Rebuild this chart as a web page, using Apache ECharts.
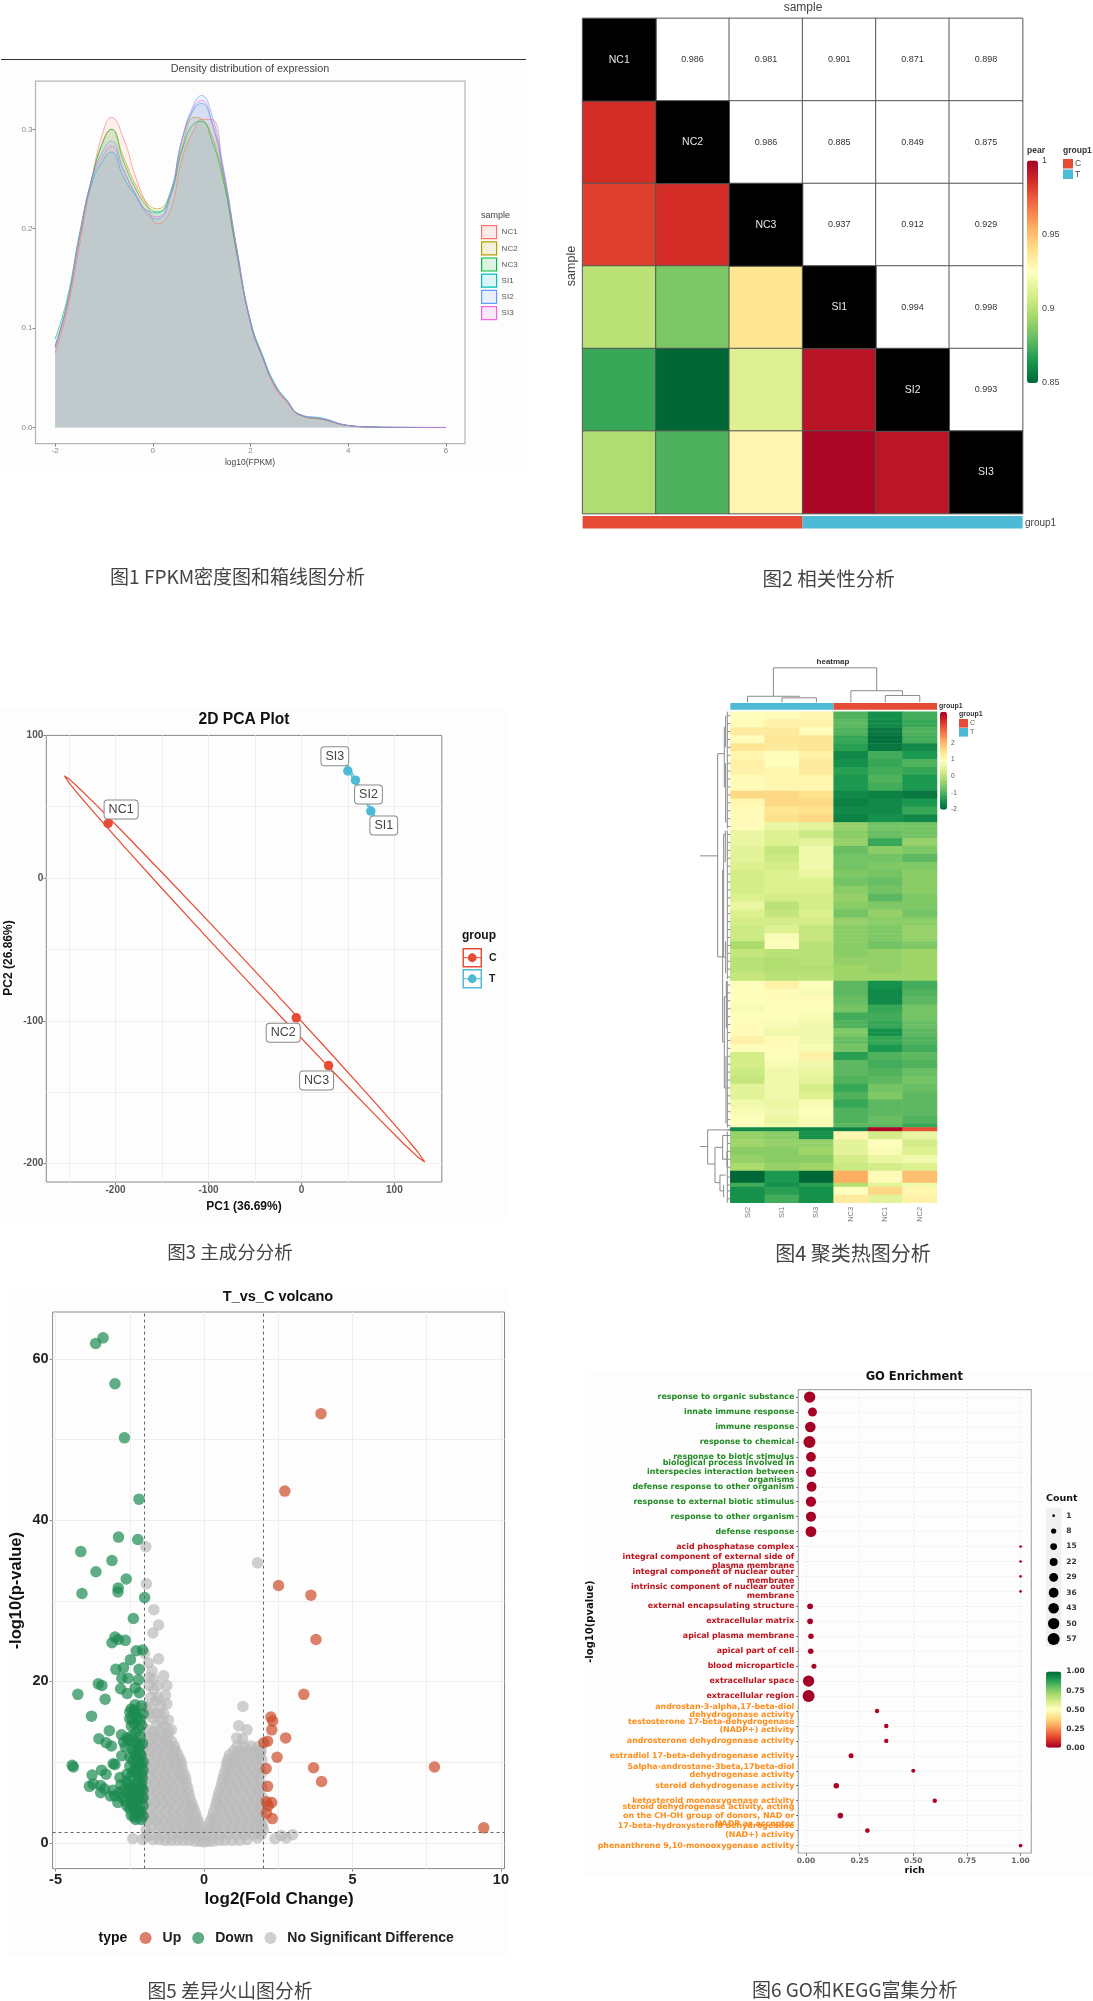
<!DOCTYPE html>
<html><head><meta charset="utf-8"><title>Figures</title>
<style>html,body{margin:0;padding:0;background:#fff}#c{width:1093px;height:2001px}</style>
<script src="https://cdn.jsdelivr.net/npm/echarts@6/dist/echarts.min.js"></script></head>
<body><div id="c"></div>
<script>
/* ---------- DATA ---------- */
const samples = ['NC1','NC2','NC3','SI1','SI2','SI3'];
const palette = ['#006837','#1a9850','#66bd63','#a6d96a','#d9ef8b','#ffffbf','#fee08b','#fdae61','#f46d43','#d73027','#a50026'];

// Fig 1: density
const densityX = [-2,-1.75,-1.5,-1.25,-1,-.85,-.6,-.35,-.1,.1,.35,.6,.85,1,1.2,1.45,1.7,2,2.25,2.5,2.75,3,3.5,4,4.5,5,6];
const densNC1 = [.075,.118,.183,.25,.30,.312,.291,.252,.222,.205,.217,.27,.3,.31,.31,.255,.185,.105,.07,.04,.025,.0125,.008,.002,.0005,.0001,0];
const densNC2 = [.08,.125,.19,.25,.29,.30,.272,.244,.225,.22,.235,.282,.312,.31,.295,.25,.18,.105,.07,.042,.026,.013,.008,.002,.0005,.0001,0];
const densNC3 = [.089,.13,.195,.25,.29,.30,.268,.24,.222,.217,.232,.279,.306,.308,.29,.247,.18,.107,.072,.043,.027,.013,.008,.002,.0005,.0001,0];
const densSI1 = [.082,.125,.192,.245,.27,.277,.252,.233,.218,.216,.235,.29,.321,.326,.308,.255,.185,.107,.072,.044,.027,.0135,.009,.002,.0005,.0001,0];
const densSI2 = [.082,.125,.192,.25,.28,.288,.26,.234,.214,.21,.23,.29,.326,.334,.316,.26,.185,.105,.07,.042,.027,.013,.009,.002,.0005,.0001,0];
const densSI3 = [.08,.123,.192,.248,.275,.283,.258,.235,.216,.212,.232,.29,.323,.329,.31,.258,.185,.105,.07,.042,.026,.013,.008,.002,.0005,.0002,0];
const densityXTicks = [-2,0,2,4,6];
const densityYTicks = [0,0.1,0.2,0.3];

// Fig 2: correlation (symmetric, upper triangle by row)
const corr = [
 [1,.986,.981,.901,.871,.898],
 [.986,1,.986,.885,.849,.875],
 [.981,.986,1,.937,.912,.929],
 [.901,.885,.937,1,.994,.998],
 [.871,.849,.912,.994,1,.993],
 [.898,.875,.929,.998,.993,1]];
const corrGroups = ['C','T'];
const corrBarTicks = [0.85,0.9,0.95,1];

// Fig 3: PCA
const pcaC = [['NC1',-208,38.3,13,-14],['NC2',-5.6,-97.9,-13,15],['NC3',29.2,-131.4,-12,15]];
const pcaT = [['SI1',74.6,47,13,14.6],['SI2',58.1,68.6,13,14.3],['SI3',49.9,75.1,-13,-14.6]];
const ellipseC = [[-255,71.6],[-250,69.5],[-240,63.5],[-220,50.8],[-190,30.9],[-150,3.9],[-100,-30.4],[-61,-57.5],[-20,-86.2],[30,-121.7],[80,-157.9],[110,-180.2],[125,-191.8],[132.7,-199],[125,-195.4],[110,-186.2],[80,-166.5],[30,-132.9],[-20,-98.6],[-61,-70.1],[-100,-42.8],[-150,-7.3],[-190,21.5],[-220,43.6],[-240,58.7],[-250,66.7],[-255,71.6]];
const ellipseT = [[45,84],[50,79],[60,67],[70,55],[78,45],[79,43],[76,45],[66,57],[56,69],[47,80],[45,84]];
const pcaXTicks = [-200,-100,0,100];
const pcaYTicks = [-200,-100,0,100];
const pcaXGrid = [-250,-200,-150,-100,-50,0,50,100];
const pcaYGrid = [-200,-150,-100,-50,0,50];

// Fig 4: clustered heatmap
const heatCols = ['SI2','SI1','SI3','NC3','NC1','NC2'];
const heatColGroups = ['T','C'];
const heatSpans = [2,2,2,2,2,2,2,2,2,2,2,2,2,2,2, 2,2,2,2,2,2,2,2,2,2,2,2,2,2,2,2,2,2,2, 2,2,2,2,2,2,2,2,2,2,2,2,2,2,2,2,2,2,1,1, 2,2,2,2,2,3,1,2,2];
const heatRows = [
[.9,1,1.1,-1,-1.5,-1.1],[1,1.2,1.2,-.9,-1.6,-1.2],[1.3,1.3,1,-1,-1.8,-1],[1,1.4,1.4,-1.2,-1.9,-1.1],[1.4,1.3,1.4,-1.3,-1.8,-1.6],
[1.1,.9,1.2,-1.6,-1.1,-1.4],[1.2,.9,1.3,-1.5,-1.2,-1],[1.2,1.1,1.3,-1.3,-1.1,-1.2],[1,1.1,1.1,-1.4,-1,-1.4],[1,1.1,1.1,-1.4,-1.1,-1.4],
[1.6,1.6,1.5,-1.6,-1.7,-1.8],[1.1,1.6,1.6,-1.7,-1.6,-1.4],[1,1.4,1.5,-1.6,-1.6,-1.2],[1,1.5,1.6,-1.7,-1.5,-1.6],[1,.6,.5,-.4,-.7,-.7],
[.6,.4,.2,-.5,-.8,-.7],[.6,.4,.5,-.4,-1.2,-.4],[.5,.1,.7,-.8,-.5,-.6],[.5,.2,.7,-.7,-.7,-.9],[.4,.3,.7,-.7,-.6,-.6],
[.3,.4,.6,-.6,-.7,-.5],[.3,.4,.4,-.7,-.8,-.5],[.3,.4,.4,-.5,-.7,-.5],[.4,.3,.3,-.4,-.9,-.6],[.6,0,.3,-.5,-.6,-.6],
[.4,.1,.4,-.7,-.4,-.7],[.3,.3,.3,-.4,-.5,-.5],[.2,.4,.1,-.5,-.6,-.4],[.2,.8,.1,-.5,-.6,-.4],[-.2,.9,0,-.5,-.7,-.6],
[.1,0,0,-.5,-.4,-.3],[0,-.1,0,-.4,-.4,-.3],[0,-.1,-.1,-.3,-.4,-.3],[.1,0,0,-.3,-.3,-.3],
[.9,1.2,.9,-.9,-1.5,-1.1],[.9,1,.8,-.9,-1.6,-1],[.9,1,1,-.8,-1.6,-.9],[.8,.9,.9,-.7,-1.2,-.7],[.9,.9,.8,-1.1,-1.1,-.7],
[1,.8,.7,-1,-1.2,-.8],[1,.7,.7,-.6,-1.5,-.9],[1.2,1,.7,-.8,-1.2,-1],[.9,1,.8,-.7,-1.4,-1.1],[.3,.9,1.2,-1.3,-1,-.9],
[.3,.8,.7,-.9,-1.1,-1],[.2,.7,.6,-.9,-1,-.8],[.1,.7,.5,-1,-.9,-.7],[.5,.7,.3,-1.2,-.7,-.8],[.5,.7,.4,-1,-.6,-.9],
[.7,.6,.8,-1.2,-.9,-.9],[.8,.7,.9,-1,-.9,-.9],[.9,.6,.8,-1,-.8,-1],[.9,.7,.8,-.9,-.9,-1.2],[-1.6,-1.6,-1.6,-1.7,3.8,3],
[-.4,-.5,-1.5,1.1,.3,.6],[-.3,-.4,-.4,.5,.9,.3],[-.5,-.5,-.3,.5,.8,.4],[-.4,-.5,-.5,.3,.6,.7],[-.2,-.4,-.3,.2,.3,.4],
[-2,-1.4,-2,2.1,1,1.9],[-1.1,-1.5,-1.3,-.1,.5,.7],[-1.5,-1.3,-1.5,.9,1.6,1.1],[-1.5,-1.1,-1.5,1.3,.5,1.2]];
const heatBarTicks = [-2,-1,0,1,2,3];
// dendrograms: [height, row, height, row] and [col, height, col, height]
const rowTree = [[91,36.4,38,36.4],[38,10.6,38,61.9],[38,10.6,18,10.6],[18,4,18,19],[38,61.9,23,61.9],[23,40,23,83.4],[18,4,14,4],[18,19,14,19],[14,1,14,9],[14,13,14,28],[23,40,20,40],[20,31,20,62],[20,31,15,31],[15,30,15,38],[20,62,14,62],[14,58,14,66],[23,83.4,18,83.4],[18,72,18,95],[18,72,12,72],[12,68,12,80],[18,95,13,95],[13,87,13,104],
[91,109.8,68,109.8],[68,105.6,68,114.2],[68,105.6,0,105.6],[68,114.2,46,114.2],[46,110,46,118.9],[46,110,23,110],[23,107,23,113],[23,107,8,107],[23,113,10,113],[10,111,10,115],[46,118.9,31,118.9],[31,117,31,121],[31,117,14,117],[31,121,20,121],[20,119.5,20,122.6],
[9,0,9,29.5],[9,30,9,67.5],[9,68,9,105],[9,106,9,124]];
const colTree = [[.75,87,3.75,87],[.75,87,.75,15],[3.75,87,3.75,29],[0,15,1.5,15],[0,15,0,0],[1.5,15,1.5,11],[1,11,2,11],[1,11,1,0],[2,11,2,0],[3,29,4.5,29],[3,29,3,0],[4.5,29,4.5,17],[4,17,5,17],[4,17,4,0],[5,17,5,0]];

// Fig 5: volcano
const volUp = [[3.94,53.2],[2.72,43.6],[2.51,31.9],[3.6,30.7],[3.77,25.2],[3.36,18.4],[2.25,15.6],[2.31,15.1],[2.28,14],[2.75,13],[2.14,12.6],[2.01,12.4],[2.46,10.6],[2.09,9.2],[3.69,9.3],[7.76,9.4],[3.96,7.6],[2.14,7],[2.1,5.1],[2.28,5],[2.16,4.6],[2.1,3.7],[2.3,3],[9.42,1.85]];
const volDown = [[-3.65,61.9],[-3.4,62.6],[-3,56.9],[-2.68,50.2],[-2.19,42.6],[-2.88,37.9],[-2.23,37.6],[-4.15,36.1],[-3.1,35],[-3.64,33.6],[-2.62,32.7],[-2.89,31.6],[-2.9,31.1],[-4.11,30.9],[-2,30.4],[-2.38,27.8],[-3,25.5],[-3.1,24.8],[-2.89,25.2],[-2.65,25.1],[-2.28,23.8],[-2.07,23.9],[-2.48,22.7],[-2.97,21.5],[-2.71,21.7],[-2.19,21.5],[-2.77,20.4],[-2.56,20.4],[-2.21,20.2],[-3.56,19.7],[-3.44,19.5],[-2.81,19.1],[-2.32,19.2],[-2.59,18.5],[-2.18,18.6],[-4.25,18.4],[-3.33,17.8],[-2.32,17.1],
[-2.5,16.2],[-2.35,16.4],[-2.05,16],[-2.42,15.3],[-2.25,15.6],[-2.45,14.5],[-2.1,14.6],[-3.79,15.7],[-3.19,13.9],[-3.54,12.9],[-3.3,12.4],[-3.12,12],[-2.78,13.4],[-2.71,12.5],[-2.53,12.7],[-2.36,12.4],[-2.18,12.1],[-2.65,11.9],[-2.42,11.6],[-2.07,12.3],[-2.77,10.8],[-3.06,9.8],[-3,9.7],[-4.44,9.6],[-4.4,9.4],[-3.45,9],[-3.3,8.5],[-3.77,8.4],[-2.83,8.1],[-3.86,7],[-3.73,7.3],[-3.48,7.1],[-3.36,6.7],[-3.48,6.2],[-3.15,5.8],[-3.07,6.5],[-2.8,7.2],[-2.6,7.6],
[-2.35,3.2],[-2.2,3.6],[-2.05,3.3],[-2.5,4.2],[-2.35,4.4],[-2.18,4.1],[-2.05,4.6],[-2.65,5.2],[-2.45,5.3],[-2.28,5],[-2.1,5.4],[-2.6,6.2],[-2.4,6.4],[-2.2,6.1],[-2.05,6.5],[-2.55,7.2],[-2.3,7.3],[-2.15,7],[-2.45,8.2],[-2.25,8.4],[-2.08,8],[-2.3,9.2],[-2.15,9.4],[-2.05,9],[-2.4,10.2],[-2.2,10.4],[-2.05,10],[-2.35,11.2],[-2.15,11],[-2.3,3.8],[-2.12,2.9],[-2.4,5.8],[-2.2,7.8],[-2.1,6.8],
[-2.15,13.2],[-2.3,13.6],[-2.45,13.2],[-2.6,13],[-2.2,14.2],[-2.35,14.8],[-2.5,15.4],[-2.3,16],[-2.45,16.6],[-2.15,15.3],[-2.1,17],[-2.05,5.6],[-2.2,5.6],[-2.35,5.6],[-2.5,5.8],[-2.1,7.4],[-2.25,6.7],[-2.35,7],[-2.5,6.8],[-2.7,6.6],[-2.85,6.2],[-2.1,8.6],[-2.3,8.8],[-2.4,8.8],[-2.6,8.5],[-2.12,9.8],[-2.28,10],[-2.5,9.5],[-2.12,10.8],[-2.3,10.8],[-2.5,10.6],[-2.2,11.6],[-2.28,12.4],[-2.45,4.8],[-2.25,4.6],[-2.12,3.8],[-2.3,2.9],[-2.45,3.4],[-2.6,4.6],[-2.75,5.6],[-2.9,5],[-3,5.8]];
const volNone = [[-1.96,36.7],[-1.94,32.1],[-1.69,28.9],[-1.53,27],[-1.72,26],[-2,23.5],[-1.53,22.8],[-1.87,22.3],[-1.36,20.7],[-1.7,20.3],[-1.25,19.5],[-1.85,19.5],[-1.7,19],[-1.3,18.3],[-1.8,18],[-1.45,17],[-1.5,16],[-1.42,15],[-1.35,14.5],[-1.2,13.8],[-1.75,15.5],[-1.9,14],[-1.5,13.7],[-1.95,16.8],[-1.62,17.6],
[-1.55,18],[-1.25,17.2],[-1.35,16],[-1.2,15.2],[-1.6,14.6],[-1.7,13.8],[-1.1,14],[-1.8,16.7],[-1.55,19.5],[-1.85,20.5],[-1.75,21.3],[-1.9,16],[-1.65,16],
[-1.92,13.2],[-1.66,13.2],[-1.4,13.2],[-1.22,13.2],[-1.95,12],[-1.7,12],[-1.44,12],[-1.18,12],[-1,12],[-1.88,10.9],[-1.6,10.9],[-1.35,10.9],[-1.1,10.9],[-.88,10.9],[-1.94,9.8],[-1.68,9.8],[-1.42,9.8],[-1.15,9.8],[-.92,9.8],[-.76,9.8],[-1.86,8.6],[-1.6,8.6],[-1.33,8.6],[-1.08,8.6],[-.82,8.6],[-.68,8.6],[-1.93,7.4],[-1.66,7.4],[-1.4,7.4],[-1.14,7.4],[-.88,7.4],[-.6,7.4],[-1.87,6.2],[-1.6,6.2],[-1.32,6.2],[-1.06,6.2],[-.8,6.2],[-.52,6.2],[-1.92,5],[-1.65,5],[-1.38,5],[-1.12,5],[-.85,5],[-.6,5],[-.42,5],[-1.86,3.8],[-1.58,3.8],[-1.3,3.8],[-1.04,3.8],[-.76,3.8],[-.5,3.8],[-.3,3.8],[-1.9,2.7],[-1.62,2.7],[-1.35,2.7],[-1.08,2.7],[-.82,2.7],[-.55,2.7],[-.32,2.7],[-.2,2.7],[-1.95,1.6],[-1.55,1.6],[-1.2,1.6],[-.9,1.6],[-.62,1.6],[-.38,1.6],[-.16,1.6],
[-1.8,12.6],[-1.55,12.6],[-1.3,12.6],[-1.1,12.6],[-1.82,11.4],[-1.55,11.4],[-1.28,11.4],[-1.02,11.4],[-.95,11.4],[-1.8,10.3],[-1.52,10.3],[-1.25,10.3],[-1,10.3],[-.8,10.3],[-1.78,9.2],[-1.5,9.2],[-1.24,9.2],[-.98,9.2],[-.74,9.2],[-1.8,8],[-1.53,8],[-1.26,8],[-1,8],[-.74,8],[-.62,8],[-1.8,6.8],[-1.53,6.8],[-1.27,6.8],[-1,6.8],[-.74,6.8],[-.55,6.8],[-1.76,5.6],[-1.48,5.6],[-1.22,5.6],[-.95,5.6],[-.68,5.6],[-.48,5.6],[-1.78,4.4],[-1.5,4.4],[-1.24,4.4],[-.98,4.4],[-.7,4.4],[-.46,4.4],[-.36,4.4],[-1.76,3.2],[-1.48,3.2],[-1.18,3.2],[-.92,3.2],[-.64,3.2],[-.4,3.2],[-.25,3.2],[-1.78,2.1],[-1.5,2.1],[-1.22,2.1],[-.95,2.1],[-.7,2.1],[-.45,2.1],[-.26,2.1],[-.12,2.1],[-1.8,1],[-1.4,1],[-1.05,1],[-.75,1],[-.5,1],[-.28,1],[-.1,1],
[-2.4,.5],[-2.07,.4],[-1.71,.4],[-1.5,.4],[-1.3,.3],[-1.1,.3],[-.9,.3],[-.7,.3],[-.5,.3],[-.3,.2],[-.15,.2],[0,.1],[.15,.2],[.3,.2],[.5,.3],[.7,.3],[.95,.3],[1.2,.3],[1.45,.4],[1.8,.6],[2.39,.5],[2.6,.9],[2.77,.6],[2.98,1],[-1.95,.8],[1.95,2.2],
[1.31,16.9],[1.17,14.5],[1.45,14],[1.1,13],[1.3,12.9],[1.8,11.9],[1.9,11.3],[1.8,34.7],
[1.12,12],[1.35,12],[1.58,12],[.86,10.9],[1.1,10.9],[1.36,10.9],[1.62,10.9],[1.88,10.9],[.76,9.8],[1,9.8],[1.26,9.8],[1.52,9.8],[1.78,9.8],[.68,8.6],[.94,8.6],[1.2,8.6],[1.46,8.6],[1.74,8.6],[1.93,8.6],[.6,7.4],[.86,7.4],[1.12,7.4],[1.38,7.4],[1.66,7.4],[1.9,7.4],[.5,6.2],[.76,6.2],[1.02,6.2],[1.3,6.2],[1.58,6.2],[1.84,6.2],[.42,5],[.68,5],[.94,5],[1.22,5],[1.5,5],[1.78,5],[1.94,5],[.32,3.8],[.58,3.8],[.86,3.8],[1.14,3.8],[1.42,3.8],[1.7,3.8],[1.92,3.8],[.22,2.7],[.48,2.7],[.76,2.7],[1.04,2.7],[1.32,2.7],[1.6,2.7],[1.88,2.7],[.14,1.6],[.38,1.6],[.66,1.6],[.94,1.6],[1.22,1.6],[1.5,1.6],[1.78,1.6],[2,1.6],
[1,11.4],[1.24,11.4],[1.48,11.4],[1.72,11.4],[1.92,11.4],[.8,10.3],[1,10.3],[1.24,10.3],[1.5,10.3],[1.76,10.3],[1.95,10.3],[.74,9.2],[.88,9.2],[1.1,9.2],[1.35,9.2],[1.62,9.2],[1.88,9.2],[.64,8],[.8,8],[1.06,8],[1.32,8],[1.6,8],[1.84,8],[.56,6.8],[.7,6.8],[.96,6.8],[1.24,6.8],[1.52,6.8],[1.78,6.8],[1.95,6.8],[.46,5.6],[.62,5.6],[.88,5.6],[1.16,5.6],[1.44,5.6],[1.72,5.6],[1.95,5.6],[.38,4.4],[.54,4.4],[.82,4.4],[1.08,4.4],[1.36,4.4],[1.64,4.4],[1.88,4.4],[.28,3.2],[.42,3.2],[.7,3.2],[.96,3.2],[1.24,3.2],[1.52,3.2],[1.8,3.2],[1.96,3.2],[.16,2.1],[.34,2.1],[.62,2.1],[.9,2.1],[1.18,2.1],[1.46,2.1],[1.74,2.1],[1.96,2.1],[.1,1],[.3,1],[.56,1],[.84,1],[1.1,1],[1.38,1],[1.66,1],[1.92,1]];
const volXTicks = [-5,0,5,10];
const volYTicks = [0,20,40,60];
const volXGrid = [-5,-2.5,0,2.5,5,7.5,10];
const volYGrid = [0,10,20,30,40,50,60];

// Fig 6: GO enrichment
const goTerms = ['response to organic substance','innate immune response','immune response','response to chemical','response to biotic stimulus','biological process involved in\ninterspecies interaction between\norganisms','defense response to other organism','response to external biotic stimulus','response to other organism','defense response',
'acid phosphatase complex','integral component of external side of\nplasma membrane','integral component of nuclear outer\nmembrane','intrinsic component of nuclear outer\nmembrane','external encapsulating structure','extracellular matrix','apical plasma membrane','apical part of cell','blood microparticle','extracellular space','extracellular region',
'androstan-3-alpha,17-beta-diol\ndehydrogenase activity','testosterone 17-beta-dehydrogenase\n(NADP+) activity','androsterone dehydrogenase activity','estradiol 17-beta-dehydrogenase activity','5alpha-androstane-3beta,17beta-diol\ndehydrogenase activity','steroid dehydrogenase activity','ketosteroid monooxygenase activity','steroid dehydrogenase activity, acting\non the CH-OH group of donors, NAD or\nNADP as acceptor','17-beta-hydroxysteroid dehydrogenase\n(NAD+) activity','phenanthrene 9,10-monooxygenase activity'];
const goRich = [.017,.03,.02,.016,.023,.023,.026,.023,.023,.023, 1,1,1,1,.019,.019,.023,.022,.037,.012,.012, .331,.374,.374,.21,.5,.141,.6,.16,.286,1];
const goCount = [50,29,43,57,36,40,36,40,38,45, 1,1,1,1,10,10,9,9,7,50,57, 5,5,5,7,4,9,5,9,6,3];
const goPvalue = [0,0,0,0,0,0,0,0,0,0, .01,.01,.01,.01,0,0,0,0,.01,0,0, .01,.01,.01,0,.01,0,.01,0,.01,.01];
const goGroupSizes = [10,11,10];
const goXTicks = [0,.25,.5,.75,1];
const goCountLegend = [1,8,15,22,29,36,43,50,57];
const goBarTicks = [0,.25,.5,.75,1];

/* ---------- HELPERS ---------- */
const SANS='Liberation Sans', DJ='DejaVu Sans', CJK='Noto Sans CJK SC';
const grid=[],xAxis=[],yAxis=[],series=[],legend=[],visualMap=[],graphic=[];
function addGrid(g,x,y){const i=grid.length;grid.push(Object.assign({containLabel:false,show:false},g));
  xAxis.push(Object.assign({gridIndex:i},x));yAxis.push(Object.assign({gridIndex:i},y));return i;}
const frame=(l,t,w,h,c,bw)=>({left:l,top:t,width:w,height:h,show:true,borderColor:c,borderWidth:bw===undefined?1:bw,backgroundColor:'transparent'});
const box=(l,t,w,h)=>({left:l,top:t,width:w,height:h});
const hidden=(min,max,inv)=>({type:'value',show:false,min,max,inverse:!!inv,splitLine:{show:false}});
function val(min,max,ticks,lab,tick){return {type:'value',min,max,splitLine:{show:false},
  axisLine:{show:false,onZero:false},
  axisTick:Object.assign({show:true,customValues:ticks,length:3,lineStyle:{color:'#888',width:1}},tick||{}),
  axisLabel:Object.assign({customValues:ticks,hideOverlap:false,showMinLabel:true,showMaxLabel:true},lab)};}
function txt(x,y,text,o){o=o||{};graphic.push({type:'text',x,y,rotation:o.rot||0,z:100,silent:true,
  style:{text,fill:o.color||'#333',fontFamily:o.family||SANS,fontSize:o.size||10,fontWeight:o.weight||'normal',
  align:o.align||'center',verticalAlign:'middle',textAlign:o.align||'center',textVerticalAlign:'middle'}});}
function rect(x,y,w,h,fill,stroke){graphic.push({type:'rect',z:fill==='#fdfdfd'?-10:100,silent:true,shape:{x,y,width:w,height:h},style:{fill,stroke:stroke||null}});}
function guide(i,xs,ys,style,z){series.push({type:'scatter',name:'guide'+series.length,xAxisIndex:i,yAxisIndex:i,data:[],silent:true,
  markLine:{silent:true,symbol:'none',z:z||1,animation:false,label:{show:false},lineStyle:style,
  data:[...xs.map(v=>({xAxis:v})),...ys.map(v=>({yAxis:v}))]}});}
function bar(i,groups,colors){series.push({type:'bar',name:'bar'+series.length,xAxisIndex:i,yAxisIndex:i,barWidth:'100%',silent:true,
  data:groups.map(g=>({value:1,itemStyle:{color:colors[g]}}))});}
function colourBar(l,t,w,h,min,max,ticks,lab,seriesIdx,dim,colors){
  addGrid(box(l,t,w,h),hidden(0,1),Object.assign(val(min,max,ticks,Object.assign({margin:4},lab),{show:false}),{position:'right'}));
  visualMap.push({type:'continuous',min,max,seriesIndex:seriesIdx,dimension:dim,left:l,top:t,itemWidth:w,itemHeight:h,padding:0,
    calculable:false,text:null,inRange:{color:colors||palette},z:4,hoverLink:false});
}
const groupColor={C:'#E64B35',T:'#4DBBD5'};

/* ---------- backgrounds and captions ---------- */
rect(2,60,524,411,'#fdfdfd');rect(0,709,508,509,'#fdfdfd');rect(7,1288,501,669,'#fdfdfd');rect(585,1371,508,505,'#fdfdfd');
graphic.push({type:'line',z:100,silent:true,shape:{x1:1,y1:59.5,x2:526,y2:59.5},style:{stroke:'#333',lineWidth:1}});
const capt=(x,y,t,s)=>txt(x,y,t,{family:CJK,size:s,color:'#444'});
capt(237.6,577,'图1 FPKM密度图和箱线图分析',19);capt(828.6,578.6,'图2 相关性分析',19.5);capt(230,1252,'图3 主成分分析',18.5);
capt(853,1253,'图4 聚类热图分析',20);capt(230,1991,'图5 差异火山图分析',18.8);capt(854.7,1990,'图6 GO和KEGG富集分析',19);

/* ---------- Fig 1 density ---------- */
{
 const hue=['#F8766D','#B79F00','#00BA38','#00BFC4','#619CFF','#F564E3'];
 const dens=[densNC1,densNC2,densNC3,densSI1,densSI2,densSI3];
 const lab={fontFamily:SANS,fontSize:8,color:'#888',margin:3};
 const i=addGrid(frame(35.5,81.1,429.5,362.5,'#b5b5b5',1.2),
   val(-2.4,6.39,densityXTicks,lab),val(-.0162,.3485,densityYTicks,Object.assign({},lab,{formatter:v=>v.toFixed(1)})));
 dens.forEach((d,k)=>series.push({type:'line',name:samples[k],xAxisIndex:i,yAxisIndex:i,showSymbol:false,smooth:.5,silent:true,
   lineStyle:{color:hue[k],width:1,opacity:.6},itemStyle:{color:hue[k]},areaStyle:{color:hue[k],opacity:.1},
   data:densityX.map((x,j)=>[x,d[j]])}));
 legend.push({left:481,top:225,orient:'vertical',itemWidth:15,itemHeight:13,itemGap:2,padding:0,selectedMode:false,
   textStyle:{fontFamily:SANS,fontSize:8,color:'#555',padding:[0,0,0,0]},
   data:samples.map((s,k)=>({name:s,icon:'rect',itemStyle:{color:hue[k]+'22',borderColor:hue[k],borderWidth:1.2,opacity:1}}))});
 txt(250,69,'Density distribution of expression',{size:10.8,color:'#444'});
 txt(250,462.5,'log10(FPKM)',{size:8.5,color:'#444'});
 txt(481,215.7,'sample',{size:9,color:'#444',align:'left'});
}

/* ---------- Fig 2 correlation ---------- */
{
 const hid=()=>({type:'category',show:false,data:samples,splitLine:{show:false}});
 const i=addGrid(box(582.6,18.4,440,495.2),hid(),Object.assign(hid(),{inverse:true}));
 const lower=[],upper=[],diag=[];
 corr.forEach((r,y)=>r.forEach((v,x)=>{(x<y?lower:x>y?upper:diag).push([x,y,v]);}));
 const cell={borderColor:'#555',borderWidth:1};
 const base=series.length;
 series.push({type:'heatmap',name:'lower',xAxisIndex:i,yAxisIndex:i,data:lower,itemStyle:cell,silent:true});
 series.push({type:'heatmap',name:'upper',xAxisIndex:i,yAxisIndex:i,data:upper,itemStyle:cell,silent:true,
   label:{show:true,fontFamily:SANS,fontSize:9,color:'#333',formatter:p=>p.data[2].toFixed(3)}});
 series.push({type:'heatmap',name:'diag',xAxisIndex:i,yAxisIndex:i,data:diag,itemStyle:cell,silent:true,
   label:{show:true,fontFamily:SANS,fontSize:10.5,color:'#e8e8e8',formatter:p=>samples[p.data[0]]}});
 visualMap.push({type:'continuous',show:false,min:0,max:1,seriesIndex:base+1,dimension:2,inRange:{color:['#fff','#fff']}});
 visualMap.push({type:'continuous',show:false,min:0,max:1,seriesIndex:base+2,dimension:2,inRange:{color:['#000','#000']}});
 const j=addGrid(box(582.6,516,440,12.5),{type:'category',show:false,data:corrGroups},hidden(0,1));
 bar(j,corrGroups,groupColor);
 colourBar(1027,160.5,11,222.5,.85,1,corrBarTicks,{fontFamily:SANS,fontSize:9,color:'#444',formatter:v=>String(+v.toFixed(2))},base,2);
 txt(803,7.6,'sample',{size:12,color:'#444'});
 txt(572,266,'sample',{size:12.5,color:'#444',rot:Math.PI/2});
 txt(1025,522.8,'group1',{size:10,color:'#444',align:'left'});
 txt(1027,151,'pear',{size:8.5,weight:'bold',color:'#333',align:'left'});
 txt(1063,151,'group1',{size:8.5,weight:'bold',color:'#333',align:'left'});
 rect(1063,159,10,9.5,groupColor.C);rect(1063,169.5,10,9.5,groupColor.T);
 txt(1075,164,'C',{size:8.5,color:'#444',align:'left'});txt(1075,175,'T',{size:8.5,color:'#444',align:'left'});
}

/* ---------- Fig 3 PCA ---------- */
{
 const lab={fontFamily:SANS,fontSize:10,fontWeight:'bold',color:'#555',margin:3};
 const i=addGrid(frame(46.3,735.4,395.5,446.6,'#888',1),val(-274.5,151,pcaXTicks,lab),val(-213,100,pcaYTicks,lab));
 guide(i,pcaXGrid,pcaYGrid,{color:'#efefef',width:1,type:'solid'});
 const el=(d,c,n)=>series.push({type:'line',name:n,xAxisIndex:i,yAxisIndex:i,showSymbol:false,silent:true,data:d,lineStyle:{color:c,width:1.2},itemStyle:{color:c}});
 el(ellipseC,groupColor.C,'ellipse C');el(ellipseT,groupColor.T,'ellipse T');
 const pts=(d,c,n)=>series.push({type:'scatter',name:n,xAxisIndex:i,yAxisIndex:i,symbolSize:9.5,silent:true,z:3,itemStyle:{color:c,opacity:1},
   data:d.map(p=>({name:p[0],value:[p[1],p[2]],label:{show:true,position:'inside',offset:[p[3],p[4]],formatter:'{b}',fontFamily:SANS,fontSize:12.5,color:'#444',
     backgroundColor:'#fff',borderColor:'#888',borderWidth:1,borderRadius:3,padding:[3,4,2,4]}}))});
 pts(pcaC,groupColor.C,'C');pts(pcaT,groupColor.T,'T');
 const ic='path://M0 0H20V20H0Z M1.5 1.5V18.5H18.5V1.5Z M10 5.5A4.5 4.5 0 1 1 9.99 5.5Z M1.5 9.5H18.5V10.5H1.5Z';
 legend.push({left:462.5,top:948,orient:'vertical',itemWidth:19.5,itemHeight:19.5,itemGap:1.5,padding:0,selectedMode:false,
   textStyle:{fontFamily:SANS,fontSize:10.5,fontWeight:'bold',color:'#222',padding:[0,0,0,2]},
   data:[{name:'C',icon:ic,itemStyle:{color:groupColor.C}},{name:'T',icon:ic,itemStyle:{color:groupColor.T}}]});
 txt(244,719.6,'2D PCA Plot',{size:15.6,weight:'bold',color:'#111'});
 txt(244,1207,'PC1 (36.69%)',{size:12,weight:'bold',color:'#111'});
 txt(9,958,'PC2 (26.86%)',{size:12,weight:'bold',color:'#111',rot:Math.PI/2});
 txt(462,935.7,'group',{size:12,weight:'bold',color:'#111',align:'left'});
}

/* ---------- Fig 4 clustered heatmap ---------- */
{
 const rowIdx=[];let n=0;heatSpans.forEach(s=>{rowIdx.push(n);n+=s;});
 const cats=Array.from({length:n},(_,k)=>'r'+k);
 const cells=[];
 heatRows.forEach((r,ri)=>{for(let s=0;s<heatSpans[ri];s++)r.forEach((v,c)=>cells.push([c,rowIdx[ri]+s,v]));});
 const i=addGrid(box(730.3,711.7,206.7,491.1),
  {type:'category',data:heatCols,axisLine:{show:false},axisTick:{show:false},splitLine:{show:false},
   axisLabel:{rotate:90,fontFamily:SANS,fontSize:7.5,color:'#777',margin:4,interval:0}},
  {type:'category',show:false,inverse:true,data:cats,splitLine:{show:false}});
 const s=series.length;
 series.push({type:'heatmap',name:'cluster',xAxisIndex:i,yAxisIndex:i,data:cells,silent:true,progressive:0});
 const b=addGrid(box(730.3,703,206.7,6.7),{type:'category',show:false,data:heatColGroups},hidden(0,1));
 bar(b,heatColGroups,groupColor);
 const t=addGrid(box(730.3,667.8,206.7,34.4),hidden(-.5,5.5),hidden(0,87));
 const seg=(g,d)=>series.push({type:'custom',name:'tree'+series.length,xAxisIndex:g,yAxisIndex:g,data:d,silent:true,clip:false,
   renderItem:(p,api)=>{const a=api.coord([api.value(0),api.value(1)]),e=api.coord([api.value(2),api.value(3)]);
     return {type:'line',shape:{x1:a[0],y1:a[1],x2:e[0],y2:e[1]},style:{stroke:'#8a8a8a',lineWidth:1}};},
   encode:{x:[0,2],y:[1,3]}});
 seg(t,colTree);
 const l=addGrid(box(700,711.7,30.3,491.1),hidden(0,91,true),hidden(0,124,true));
 const leaves=rowIdx.map((r,k)=>[9,r+heatSpans[k]/2,0,r+heatSpans[k]/2]);
 seg(l,rowTree.concat(leaves));
 colourBar(940,711.7,7,98,-2,3.86,heatBarTicks,{fontFamily:SANS,fontSize:6.5,color:'#555'},s,2);
 yAxis[yAxis.length-1].axisLabel.showMaxLabel=false;
 txt(833,662,'heatmap',{size:8,weight:'bold',color:'#333'});
 txt(939,706.5,'group1',{size:7,weight:'bold',color:'#333',align:'left'});
 txt(959,714,'group1',{size:7,weight:'bold',color:'#333',align:'left'});
 rect(959,719,9,8.6,groupColor.C);rect(959,728,9,8.6,groupColor.T);
 txt(970,723.5,'C',{size:7,color:'#555',align:'left'});txt(970,732.5,'T',{size:7,color:'#555',align:'left'});
}

/* ---------- Fig 5 volcano ---------- */
{
 const lab={fontFamily:SANS,fontSize:14.5,fontWeight:'bold',color:'#222',margin:4};
 const i=addGrid(frame(52.6,1312,451.9,556.6,'#888',1),val(-5.1,10.12,volXTicks,lab),val(-3.2,65.8,volYTicks,lab));
 guide(i,volXGrid,volYGrid,{color:'#eeeeee',width:1,type:'solid'});
 const pt=(d,c,n)=>series.push({type:'scatter',name:n,xAxisIndex:i,yAxisIndex:i,symbolSize:11.5,silent:true,data:d,itemStyle:{color:c,opacity:.7,borderWidth:0}});
 pt(volNone,'#BBBBBB','No Significant Difference');
 pt(volDown,'#1B8A50','Down');pt(volUp,'#CC4C2A','Up');
 guide(i,[-2,2],[1.3],{color:'#666',width:1,type:[3,3]},6);
 legend.push({left:139.6,top:1931,orient:'horizontal',icon:'circle',itemWidth:12,itemHeight:12,itemGap:11,padding:0,selectedMode:false,
   textStyle:{fontFamily:SANS,fontSize:14,fontWeight:'bold',color:'#222',padding:[0,0,0,6]},
   data:['Up','Down','No Significant Difference']});
 txt(278,1297,'T_vs_C volcano',{size:14.5,weight:'bold',color:'#111'});
 txt(279,1899,'log2(Fold Change)',{size:17,weight:'bold',color:'#111'});
 txt(16.4,1590.7,'-log10(p-value)',{size:16.5,weight:'bold',color:'#111',rot:Math.PI/2});
 txt(113,1938.5,'type',{size:14,weight:'bold',color:'#111'});
}

/* ---------- Fig 6 GO ---------- */
{
 const groupColors=['#228B22','#C0141C','#FF8C1A'];
 const grp=k=>k<goGroupSizes[0]?0:k<goGroupSizes[0]+goGroupSizes[1]?1:2;
 const redLow=palette.slice().reverse();
 const i=addGrid(frame(798.3,1389.6,233,463.4,'#aaa',1.2),
  val(-.036,1.05,goXTicks,{fontFamily:DJ,fontSize:7.5,fontWeight:'bold',color:'#666',margin:4,formatter:v=>v.toFixed(2)}),
  {type:'category',inverse:true,data:goTerms,splitLine:{show:false},axisLine:{show:false,onZero:false},
   axisTick:{show:true,length:2,alignWithLabel:true,lineStyle:{color:'#555'}},
   axisLabel:{interval:0,margin:4,fontFamily:DJ,fontSize:7.9,fontWeight:'bold',lineHeight:8.4,align:'right',color:(v,k)=>groupColors[grp(k)]}});
 guide(i,goXTicks,goTerms,{color:'#dcdcdc',width:1,type:[1,3]});
 const g=series.length;
 series.push({type:'scatter',name:'GO',xAxisIndex:i,yAxisIndex:i,silent:true,itemStyle:{opacity:1},
   data:goTerms.map((t,k)=>[goRich[k],k,goPvalue[k],goCount[k]]),
   encode:{x:0,y:1},
   symbolSize:d=>1.28+1.42*Math.sqrt(d[3])});
 const c=addGrid({left:1046,top:1508,width:15.3,height:138.7,show:true,borderWidth:0,backgroundColor:'#f0f0f0'},hidden(-1,1),
  {type:'category',inverse:true,position:'right',data:goCountLegend.map(String),axisLine:{show:false,onZero:false},axisTick:{show:false},splitLine:{show:false},
   axisLabel:{interval:0,margin:5,fontFamily:DJ,fontSize:7.5,fontWeight:'bold',color:'#333'}});
 series.push({type:'scatter',name:'count key',xAxisIndex:c,yAxisIndex:c,silent:true,itemStyle:{color:'#000',opacity:1},
   data:goCountLegend.map((v,k)=>[0,k,v]),encode:{x:0,y:1},symbolSize:d=>1.28+1.42*Math.sqrt(d[2])});
 colourBar(1046,1671.5,15.3,76.2,0,1,goBarTicks,{fontFamily:DJ,fontSize:7.5,fontWeight:'bold',color:'#333',margin:5,formatter:v=>v.toFixed(2)},g,2,redLow);
 txt(914.3,1377,'GO Enrichment',{family:DJ,size:11.5,weight:'bold',color:'#111'});
 txt(914.7,1871,'rich',{family:DJ,size:9.5,weight:'bold',color:'#111'});
 txt(590.7,1621.6,'-log10(pvalue)',{family:DJ,size:10,weight:'bold',color:'#111',rot:Math.PI/2});
 txt(1046,1498.7,'Count',{family:DJ,size:9.5,weight:'bold',color:'#111',align:'left'});
}

/* ---------- render ---------- */
const chart=echarts.init(document.getElementById('c'),null,{renderer:'canvas',width:1093,height:2001});
chart.setOption({animation:false,backgroundColor:'#fff',tooltip:{show:false},grid,xAxis,yAxis,series,legend,visualMap,graphic:{elements:graphic}});
</script></body></html>
